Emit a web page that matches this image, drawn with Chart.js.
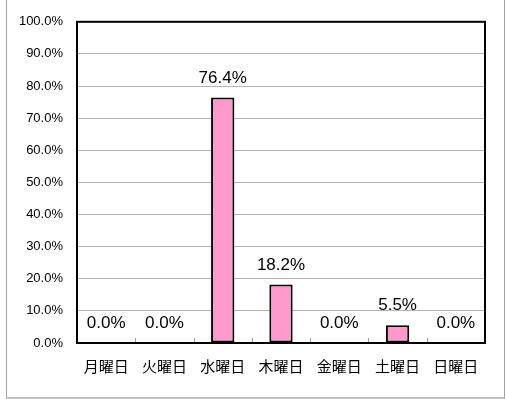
<!DOCTYPE html>
<html>
<head>
    <title>曜日別</title>
    <style>
        html, body {
            margin: 0;
            padding: 0;
            background: #ffffff;
        }

        .wrap {
            position: relative;
            width: 506px;
            height: 399px;
            overflow: hidden;
        }

        .frame {
            position: absolute;
            left: 6px;
            top: -2px;
            width: 497px;
            height: 398px;
            border: 1px solid #a0a0a0;
            border-bottom: 2px solid #c4c4c4;
            pointer-events: none;
        }

        #chart {
            position: absolute;
            left: 0;
            top: 0;
        }
    </style>
    <script src="https://cdn.jsdelivr.net/npm/chart.js"></script>
</head>
<body>
    <div class="wrap">
        <canvas id="chart" width="506" height="399"></canvas>
        <div class="frame"></div>
    </div>
    <script>
        const days = ['月曜日', '火曜日', '水曜日', '木曜日', '金曜日', '土曜日', '日曜日'];
        const shares = [0.0, 0.0, 76.4, 18.2, 0.0, 5.5, 0.0];
        const yMax = 100;
        const yStep = 10;

        const labelFont = "'Liberation Sans', Arial, 'Noto Sans CJK JP', sans-serif";

        // value labels above bars, plot frame and small x ticks
        const extras = {
            id: 'extras',
            afterDatasetsDraw(chart) {
                const ctx = chart.ctx;
                const area = chart.chartArea;
                const x = chart.scales.x;
                const meta = chart.getDatasetMeta(0);

                ctx.save();
                // small tick marks between categories
                ctx.strokeStyle = '#a0a0a0';
                ctx.lineWidth = 1;
                for (let i = 0; i < days.length - 1; i++) {
                    const px = Math.round((x.getPixelForValue(i) + x.getPixelForValue(i + 1)) / 2) + 0.5;
                    ctx.beginPath();
                    ctx.moveTo(px, area.bottom);
                    ctx.lineTo(px, area.bottom - 5);
                    ctx.stroke();
                }

                // frame
                ctx.strokeStyle = '#000000';
                ctx.lineWidth = 2;
                ctx.strokeRect(area.left, area.top, area.right - area.left, area.bottom - area.top);

                // labels
                ctx.fillStyle = '#000000';
                ctx.font = '17px ' + labelFont;
                ctx.textAlign = 'center';
                ctx.textBaseline = 'alphabetic';
                meta.data.forEach((bar, i) => {
                    ctx.fillText(shares[i].toFixed(1) + '%', bar.x, bar.y - 15);
                });
                ctx.restore();
            }
        };

        new Chart(document.getElementById('chart'), {
            type: 'bar',
            data: {
                labels: days,
                datasets: [{
                    data: shares,
                    backgroundColor: '#ff99cc',
                    borderColor: '#000000',
                    borderWidth: 2,
                    borderSkipped: false,
                    categoryPercentage: 1.0,
                    barPercentage: 0.4
                }]
            },
            options: {
                responsive: false,
                animation: false,
                layout: {
                    padding: { top: 18, right: 21, bottom: 0, left: 0 }
                },
                plugins: {
                    legend: { display: false },
                    tooltip: { enabled: false }
                },
                scales: {
                    x: {
                        afterFit(scale) { scale.height = 56; },
                        grid: { display: false, drawTicks: false },
                        border: { display: false },
                        ticks: {
                            color: '#000000',
                            padding: 14,
                            maxRotation: 0,
                            font: { family: "'Noto Sans CJK JP', sans-serif", size: 15 }
                        }
                    },
                    y: {
                        min: 0,
                        max: yMax,
                        afterFit(scale) { scale.width = 77; },
                        grid: { color: '#b4b4b4', lineWidth: 1, drawTicks: false },
                        border: { display: false },
                        ticks: {
                            stepSize: yStep,
                            color: '#000000',
                            padding: 14,
                            font: { family: labelFont, size: 13 },
                            callback: v => v.toFixed(1) + '%'
                        }
                    }
                }
            },
            plugins: [extras]
        });
    </script>
</body>
</html>
